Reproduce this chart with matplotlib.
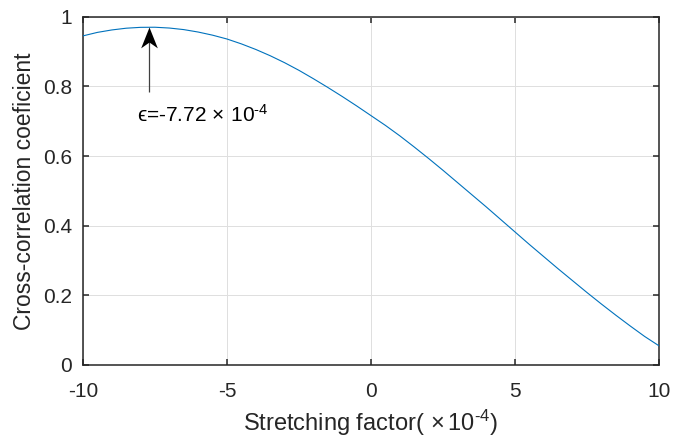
import matplotlib
matplotlib.use("Agg")
import matplotlib.pyplot as plt
from matplotlib.path import Path

# Stretching factor (x1e-4) and the corresponding cross-correlation coefficient
stretch = [-10.0, -9.5, -9.0, -8.5, -8.0, -7.5, -7.0, -6.5, -6.0, -5.5,
           -5.0, -4.5, -4.0, -3.5, -3.0, -2.5, -2.0, -1.5, -1.0, -0.5,
           0.0, 0.5, 1.0, 1.5, 2.0, 2.5, 3.0, 3.5, 4.0, 4.5,
           5.0, 5.5, 6.0, 6.5, 7.0, 7.5, 8.0, 8.5, 9.0, 9.5, 10.0]
coeff = [0.945, 0.955, 0.962, 0.967, 0.9695, 0.9698, 0.9675, 0.963, 0.956, 0.947,
         0.936, 0.922, 0.906, 0.888, 0.868, 0.846, 0.822, 0.797, 0.771, 0.744,
         0.716, 0.688, 0.658, 0.626, 0.593, 0.559, 0.524, 0.489, 0.454, 0.418,
         0.382, 0.346, 0.311, 0.276, 0.242, 0.208, 0.175, 0.143, 0.112, 0.082,
         0.055]

peak_x = -7.72
peak_y = 0.970
arrow_tail_y = 0.785
label_pos = (-8.14, 0.697)

xticks = [-10, -5, 0, 5, 10]
yticks = [0, 0.2, 0.4, 0.6, 0.8, 1]
ytick_labels = ["0", "0.2", "0.4", "0.6", "0.8", "1"]

plt.rcParams["font.family"] = ["Liberation Sans", "DejaVu Sans"]
plt.rcParams["mathtext.fontset"] = "custom"
plt.rcParams["mathtext.rm"] = "Liberation Sans"
plt.rcParams["mathtext.it"] = "Liberation Sans:italic"
plt.rcParams["mathtext.default"] = "regular"

axis_color = "#262626"

fig = plt.figure(figsize=(6.73, 4.40), dpi=100)
ax = fig.add_axes([0.1233, 0.1705, 0.8559, 0.7915])

ax.plot(stretch, coeff, color="#0072BD", lw=0.8, zorder=3)

# Annotation arrow pointing at the peak (swept-back head as a custom marker)
ax.plot([peak_x, peak_x], [arrow_tail_y, peak_y - 0.03], color="#404040",
        lw=0.9, zorder=4, solid_capstyle="butt")
head = Path([(0, 0), (0.40, -1.0), (0, -0.72), (-0.40, -1.0), (0, 0)],
            [Path.MOVETO, Path.LINETO, Path.LINETO, Path.LINETO, Path.CLOSEPOLY])
ax.plot([peak_x], [peak_y], marker=head, markersize=30, color="black",
        markeredgewidth=0, linestyle="none", zorder=5)

ax.text(label_pos[0], label_pos[1],
        "ϵ=-7.72$\\,\\times\\,$10$^{\\text{-4}}$", fontsize=15,
        color="black", ha="left", va="baseline", zorder=6)

ax.set_xlim(-10, 10)
ax.set_ylim(0, 1)
ax.set_xticks(xticks)
ax.set_xticklabels([str(t) for t in xticks])
ax.set_yticks(yticks)
ax.set_yticklabels(ytick_labels)

ax.grid(True, color="#dfdfdf", lw=0.7)
ax.set_axisbelow(True)

for s in ax.spines.values():
    s.set_color(axis_color)
    s.set_linewidth(1.1)

ax.tick_params(direction="in", length=4.5, width=1.1, color=axis_color,
               labelcolor=axis_color, labelsize=15, top=True, right=True)
ax.tick_params(axis="x", pad=12)
ax.tick_params(axis="y", pad=8)

ax.set_xlabel("Stretching factor($\\,\\times$10$^{\\text{-4}}$)", fontsize=17,
              color=axis_color, labelpad=5)
ax.set_ylabel("Cross-correlation coeficient", fontsize=16.5,
              color=axis_color, labelpad=5)

fig.savefig("out.png", dpi=100)
